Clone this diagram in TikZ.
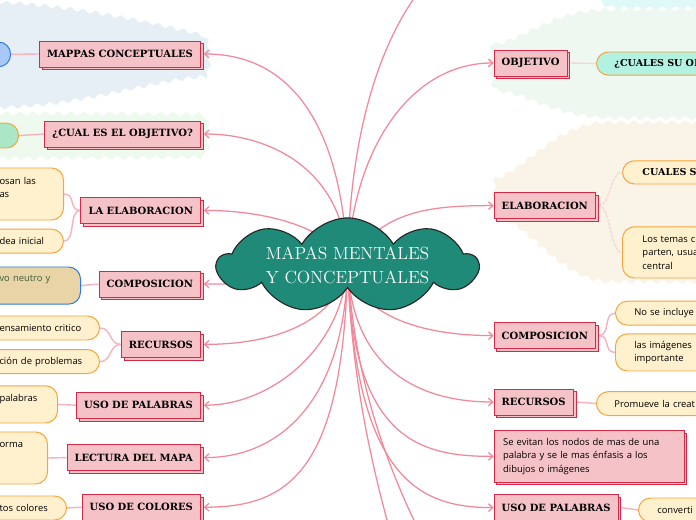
\documentclass[tikz,border=0pt]{standalone}
\usepackage{fontspec}
\usepackage{xcolor}
\usepackage{tikz}
\usetikzlibrary{arrows.meta,positioning,calc,shapes.symbols,shadows,backgrounds,decorations.pathmorphing}

\newfontfamily\topicfont{DejaVu Serif}
\newfontfamily\leaffont{Open Sans}

\definecolor{pinkback}{HTML}{F5C2C7}
\definecolor{pinkline}{HTML}{D42A48}
\definecolor{connpink}{HTML}{F2899A}
\definecolor{twigpink}{HTML}{F4B3BD}
\definecolor{twigpale}{HTML}{F3D6DA}
\definecolor{cream}{HTML}{FFF0CE}
\definecolor{creamline}{HTML}{F5A53D}
\definecolor{mintleaf}{HTML}{B3F2E1}
\definecolor{greenleaf}{HTML}{AAE7C6}
\definecolor{blueleaf}{HTML}{A8C9F8}
\definecolor{blueline}{HTML}{2F78E6}
\definecolor{tanleaf}{HTML}{E8D4A7}
\definecolor{leafgreen}{HTML}{3E5E3B}
\definecolor{rootteal}{HTML}{1E8A77}
\definecolor{blobblue}{HTML}{E7EFF6}
\definecolor{blobgreen}{HTML}{EEFAEE}
\definecolor{blobmint}{HTML}{EEF8F1}
\definecolor{blobbeige}{HTML}{F9F4E7}
\definecolor{blobcyan}{HTML}{DFF8F8}

\begin{document}
\begin{tikzpicture}[
  font=\leaffont\fontsize{6.7}{9.6}\selectfont,
  hubcloud/.style={cloud, cloud puffs=9, cloud puff arc=120, cloud ignores aspect, inner sep=0pt,
    minimum width=6.5cm, minimum height=2.0cm, fill=rootteal, draw=black!85, line width=0.8pt,
    text=white, align=center, font=\rmfamily\fontsize{12.5}{17}\selectfont},
  topic/.style={draw=pinkline, fill=pinkback, line width=0.7pt, minimum height=0.65cm, inner xsep=0.19cm,
    font=\topicfont\bfseries\fontsize{7.1}{9}\selectfont,
    copy shadow={shadow xshift=2pt, shadow yshift=-2pt, draw=pinkline, fill=pinkback}},
  note/.style={topic, font=\leaffont\fontsize{6.7}{9.6}\selectfont, text width=4.3cm, align=left,
    inner xsep=0.225cm, minimum height=1.28cm},
  leaf/.style={draw=creamline, fill=cream, line width=0.7pt, rounded corners=0.3cm,
    minimum height=0.6cm, inner xsep=0.3cm, align=left},
  lleaf/.style={leaf, anchor=east},
  rleaf/.style={leaf, anchor=west, text width=3cm, inner xsep=0.47cm},
  capsleaf/.style={font=\topicfont\bfseries\fontsize{6.8}{9}\selectfont},
  conn/.style={connpink, line width=0.9pt, -{Straight Barb[length=3pt,width=5.5pt]}},
  twig/.style={twigpink, line width=1pt},
  blob/.style={decorate, decoration={snake, amplitude=0.045cm, segment length=0.32cm}}
]
\useasboundingbox (0,0) rectangle (17.4,-13);

\node[hubcloud] (root) at (8.69,-6.63) {MAPAS MENTALES\\Y CONCEPTUALES};

% left branches
\node[topic, anchor=east] (mapas) at (5.025,-1.35) {MAPPAS CONCEPTUALES};
\node[topic, anchor=east] (cual) at (5.025,-3.35) {¿CUAL ES EL OBJETIVO?};
\node[topic, anchor=east] (elabl) at (5.025,-5.26) {LA ELABORACION};
\node[topic, anchor=east] (compl) at (5.025,-7.1) {COMPOSICION};
\node[topic, anchor=east] (recl) at (5.025,-8.61) {RECURSOS};
\node[topic, anchor=east] (usol) at (5.025,-10.13) {USO DE PALABRAS};
\node[topic, anchor=east] (lect) at (5.025,-11.44) {LECTURA DEL MAPA};
\node[topic, anchor=east] (colr) at (5.025,-12.68) {USO DE COLORES};

\node[lleaf, draw=blueline, fill=blueleaf, minimum width=1cm, minimum height=0.62cm] (mapasa) at (0.275,-1.36) {};
\node[lleaf, fill=greenleaf, minimum width=1cm, minimum height=0.62cm] (cuala) at (0.475,-3.39) {};
\node[lleaf, text width=1.3cm, minimum height=1.3cm] (elabla) at (1.6,-4.85) {osan~las\\as\\~};
\node[lleaf, text width=1.3cm] (elablb) at (1.6,-6.03) {dea~inicial};
\node[lleaf, draw=blueline, fill=tanleaf, text=leafgreen, text width=1.725cm, minimum height=0.93cm] (compla) at (2.025,-7.14) {vo~neutro~y\\~};
\node[lleaf, text width=2.2cm] (recla) at (2.5,-8.2) {ensamiento~critico};
\node[lleaf, text width=2.2cm] (reclb) at (2.5,-9.04) {ción~de~problemas};
\node[lleaf, text width=1.15cm, minimum height=0.93cm] (usola) at (1.45,-10.11) {palabras\\~};
\node[lleaf, text width=0.9cm, minimum height=1.3cm] (lecta) at (1.2,-11.45) {orma\\~\\~};
\node[lleaf, text width=1.375cm] (colra) at (1.675,-12.7) {tos~colores};

% right branches
\node[topic, anchor=west] (objr) at (12.34,-1.575) {OBJETIVO};
\node[topic, anchor=west] (elabr) at (12.34,-5.14) {ELABORACION};
\node[topic, anchor=west] (compr) at (12.34,-8.39) {COMPOSICION};
\node[topic, anchor=west] (recr) at (12.34,-10.05) {RECURSOS};
\node[note, anchor=west] (nota) at (12.34,-11.41) {Se evitan los nodos de mas de una\\palabra y se le mas énfasis a los\\dibujos o imágenes};
\node[topic, anchor=west] (usor) at (12.34,-12.69) {USO DE PALABRAS};

\node[rleaf, capsleaf, fill=mintleaf, inner xsep=0.45cm, minimum height=0.58cm] (objra) at (14.9,-1.59) {¿CUALES SU OBJ};
\node[rleaf, capsleaf, inner xsep=0.5cm, minimum height=0.58cm] (elabra) at (15.55,-4.31) {CUALES SU};
\node[rleaf, inner xsep=0.5cm, minimum height=1.28cm] (elabrb) at (15.55,-6.31) {Los temas c\\parten, usua\\central};
\node[rleaf] (compra) at (15.375,-7.83) {No se incluye};
\node[rleaf, minimum height=0.93cm] (comprb) at (15.375,-8.81) {las imágenes\\importante};
\node[rleaf, inner xsep=0.45cm] (recra) at (14.9,-10.09) {Promueve la creat};
\node[rleaf] (usora) at (15.95,-12.75) {converti};

\coordinate (hidtop) at (12.5,1.75);
\coordinate (hidbota) at (10.25,-15);
\coordinate (hidbotb) at (11.25,-14.75);

\begin{scope}[on background layer]
% pale backdrops
\fill[blobblue, blob] (-0.25,-0.05) .. controls (1.5,-0.1) and (3.5,-0.5) .. (5,-0.88)
  .. controls (5.2,-0.93) and (5.2,-1.9) .. (5,-1.95)
  .. controls (3.5,-2.05) and (2,-2.7) .. (-0.25,-2.72) -- cycle;
\fill[blobgreen, blob] (-0.25,-2.83) -- (4.95,-2.85) .. controls (5.2,-2.87) and (5.2,-3.88) .. (4.95,-3.9)
  -- (-0.25,-3.92) -- cycle;
\fill[blobcyan, blob] (14.9,0.3) -- (14.9,0.1) .. controls (15.1,-0.12) and (15.3,-0.16) .. (15.6,-0.16)
  -- (17.8,-0.16) -- (17.8,0.3) -- cycle;
\fill[blobmint, blob] (12.3,-1.12) .. controls (13,-1.0) and (13.75,-0.3) .. (15,-0.25) -- (17.8,-0.25)
  -- (17.8,-2.93) -- (15,-2.93) .. controls (13.75,-2.88) and (13,-2.3) .. (12.3,-2.25)
  .. controls (12.1,-2.2) and (12.1,-1.17) .. cycle;
\fill[blobbeige, blob] (12.3,-4.5) .. controls (13,-4.3) and (13.8,-3.15) .. (15,-3.08) -- (17.8,-3.08)
  -- (17.8,-7.2) -- (15,-7.18) .. controls (13.8,-7.1) and (13,-5.65) .. (12.3,-5.58)
  .. controls (12.1,-5.5) and (12.1,-4.58) .. cycle;

% leaf links
\draw[twig] (mapasa.east) -- (mapas.west);
\draw[twig] (cuala.east) -- (cual.west);
\draw[twig] (elabl.west) .. controls +(-0.3,0) and +(0.3,0) .. (elabla.east);
\draw[twig] (elabl.west) .. controls +(-0.3,0) and +(0.3,0) .. (elablb.east);
\draw[twig] (compla.east) -- (compl.west);
\draw[twig] (recl.west) .. controls +(-0.3,0) and +(0.3,0) .. (recla.east);
\draw[twig] (recl.west) .. controls +(-0.3,0) and +(0.3,0) .. (reclb.east);
\draw[twig] (usola.east) -- (usol.west);
\draw[twig] (lecta.east) -- (lect.west);
\draw[twig] (colra.east) -- (colr.west);
\draw[twig, twigpale] ([xshift=2pt]objr.east) -- (objra.west);
\draw[twig, twigpale, dash pattern=on 2pt off 1pt] ([xshift=2pt]elabr.east) .. controls +(0.3,0) and +(-0.3,0) .. (elabra.west);
\draw[twig, twigpale, dash pattern=on 2pt off 1pt] ([xshift=2pt]elabr.east) .. controls +(0.3,0) and +(-0.3,0) .. (elabrb.west);
\draw[twig] ([xshift=2pt]compr.east) .. controls +(0.3,0) and +(-0.3,0) .. (compra.west);
\draw[twig] ([xshift=2pt]compr.east) .. controls +(0.3,0) and +(-0.3,0) .. (comprb.west);
\draw[twig] ([xshift=2pt]recr.east) -- (recra.west);
\draw[twig] ([xshift=2pt]usor.east) -- (usora.west);

% main links
\draw[conn] (root.center) .. controls (8.55,-3.125) and (7.275,-1.35) .. ([xshift=2pt]mapas.east);
\draw[conn] (root.center) .. controls (8.625,-4.25) and (6.75,-3.35) .. ([xshift=2pt]cual.east);
\draw[conn] (root.center) .. controls (8.25,-5.625) and (6.5,-5.26) .. ([xshift=2pt]elabl.east);
\draw[conn] (root.center) .. controls (7.5,-7.125) and (6.0,-7.1) .. ([xshift=2pt]compl.east);
\draw[conn] (root.center) .. controls (8.375,-8.25) and (6.5,-8.61) .. ([xshift=2pt]recl.east);
\draw[conn] (root.center) .. controls (8.55,-8.75) and (6.75,-10.13) .. ([xshift=2pt]usol.east);
\draw[conn] (root.center) .. controls (8.625,-10.0) and (7.0,-11.44) .. ([xshift=2pt]lect.east);
\draw[conn] (root.center) .. controls (8.575,-11.75) and (7.25,-12.68) .. ([xshift=2pt]colr.east);
\draw[conn] (root.center) .. controls (8.8,-3.75) and (10.25,-1.575) .. (objr.west);
\draw[conn] (root.center) .. controls (8.75,-2.0) and (10.25,1.0) .. (hidtop);
\draw[conn] (root.center) .. controls (9.5,-5.25) and (10.75,-5.14) .. (elabr.west);
\draw[conn] (root.center) .. controls (9.0,-8.0) and (10.75,-8.39) .. (compr.west);
\draw[conn] (root.center) .. controls (8.8,-9.25) and (10.5,-10.05) .. (recr.west);
\draw[conn] (root.center) .. controls (8.8,-11.0) and (10.5,-11.41) .. (nota.west);
\draw[conn] (root.center) .. controls (8.875,-12.0) and (10.5,-12.69) .. (usor.west);
\draw[conn] (root.center) .. controls (8.8,-10.0) and (9.5,-12.5) .. (hidbota);
\draw[conn] (root.center) .. controls (8.875,-10.0) and (10.0,-12.5) .. (hidbotb);
\end{scope}
\end{tikzpicture}
\end{document}
